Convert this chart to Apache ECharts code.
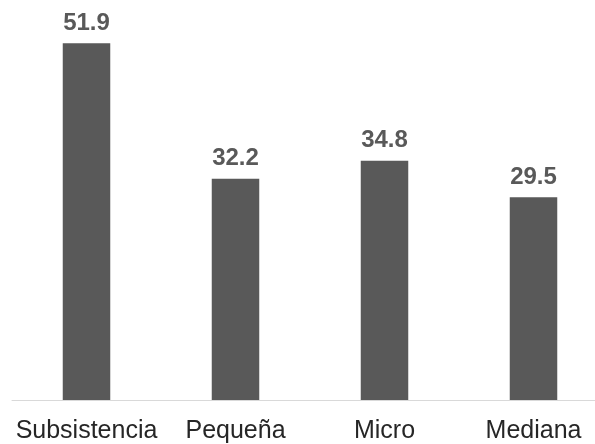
<!DOCTYPE html>
<html>
<head>
<meta charset="utf-8">
<script src="https://cdn.jsdelivr.net/npm/echarts@6/dist/echarts.min.js"></script>
<style>
  html, body { margin: 0; padding: 0; background: #ffffff; overflow: hidden; }
  /* plot runs slightly past the right edge of the view */
  #chart { width: 620px; height: 444px; }
</style>
</head>
<body>
<div id="chart"></div>
<script>
// Categories and values
const categories = ['Subsistencia', 'Pequeña', 'Micro', 'Mediana'];
const values = [51.9, 32.2, 34.8, 29.5];

const chart = echarts.init(document.getElementById('chart'), null, { renderer: 'canvas' });

chart.setOption({
  animation: false,
  backgroundColor: '#ffffff',
  grid: { left: 12, right: 12, top: 0, bottom: 43.5, containLabel: false },
  xAxis: {
    type: 'category',
    data: categories,
    axisLine: { show: true, lineStyle: { color: '#d9d9d9', width: 1 } },
    axisTick: { show: false },
    axisLabel: {
      interval: 0,
      color: '#262626',
      fontFamily: 'Liberation Sans, Arial, sans-serif',
      fontSize: 25,
      margin: 19
    }
  },
  yAxis: {
    type: 'value',
    min: 0,
    max: 58.2,
    show: false,
    splitLine: { show: false }
  },
  series: [{
    type: 'bar',
    data: values,
    barWidth: 47.5,
    itemStyle: { color: '#595959' },
    label: {
      show: true,
      position: 'top',
      distance: 8,
      color: '#595959',
      fontFamily: 'Liberation Sans, Arial, sans-serif',
      fontWeight: 'bold',
      fontSize: 24,
      formatter: (p) => p.value.toFixed(1)
    }
  }]
});
</script>
</body>
</html>
